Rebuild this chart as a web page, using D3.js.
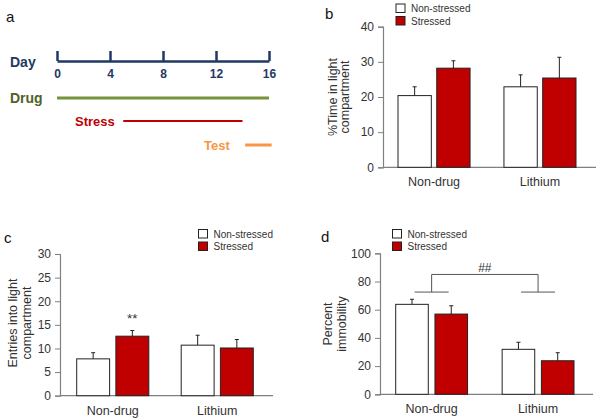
<!DOCTYPE html>
<html><head><meta charset="utf-8">
<script src="https://cdn.jsdelivr.net/npm/d3@7"></script>
<style>body{margin:0;background:#fff}svg{display:block;font-family:"Liberation Sans",Arial,sans-serif}</style>
</head><body><svg id="c" width="600" height="420"></svg>
<script>
// ---- data ----
const dayTicks = [0, 4, 8, 12, 16];
const phaseNames = ["Drug", "Stress", "Test"];
const phaseStart = [0, 5, 14.2];
const phaseEnd = [16, 14, 16.2];

const groups = ["Non-drug", "Lithium"];
const seriesNames = ["Non-stressed", "Stressed"];

const timeNonStressed = [20.4, 22.9];
const timeNonStressedErr = [2.5, 3.4];
const timeStressed = [28.2, 25.4];
const timeStressedErr = [2.1, 5.9];
const timeTicks = [0, 10, 20, 30, 40];

const entriesNonStressed = [7.8, 10.7];
const entriesNonStressedErr = [1.3, 2.1];
const entriesStressed = [12.6, 10.1];
const entriesStressedErr = [1.2, 1.8];
const entriesTicks = [0, 5, 10, 15, 20, 25, 30];

const immobNonStressed = [63.8, 31.9];
const immobNonStressedErr = [3.6, 5.0];
const immobStressed = [56.9, 23.8];
const immobStressedErr = [5.9, 5.7];
const immobTicks = [0, 20, 40, 60, 80, 100];

// ---- drawing ----
const svg = d3.select("#c");
const fillColors = ["#ffffff", "#c00000"];

function panelLetter(t, x, y) {
  svg.append("text").attr("x", x).attr("y", y).attr("font-size", 15).attr("fill", "#111").text(t);
}

// Panel a: timeline
panelLetter("a", 6, 22);
const tx = d3.scaleLinear().domain([0, 16]).range([57, 269]);
const navy = "#1f3864";
const ta = svg.append("g").attr("transform", "translate(0,61)");
const axA = d3.axisBottom(tx).tickValues(dayTicks).tickSize(0).tickPadding(8).tickFormat(d3.format("d"));
ta.call(axA);
ta.select(".domain").attr("stroke", navy).attr("stroke-width", 2.5);
ta.selectAll(".tick text").attr("font-size", 12).attr("font-weight", "bold").attr("fill", navy)
  .attr("font-family", '"Liberation Sans",Arial,sans-serif');
ta.selectAll(".tick").append("line").attr("y1", -10).attr("y2", 0).attr("stroke", navy).attr("stroke-width", 2.5);
svg.append("text").attr("x", 10).attr("y", 67).attr("font-size", 14).attr("font-weight", "bold").attr("fill", navy).text("Day");

const phaseText = ["#4f6228", "#c00000", "#f79646"];
const phaseLine = ["#77933c", "#c00000", "#f79646"];
const phaseY = [98, 121, 145];
const phaseWidth = [3, 2, 3];
const phaseLabelX = [10, 75, 204];
const phaseFont = [14, 13, 13];
phaseNames.forEach((p, i) => {
  svg.append("line").attr("x1", tx(phaseStart[i])).attr("x2", tx(phaseEnd[i]))
    .attr("y1", phaseY[i]).attr("y2", phaseY[i]).attr("stroke", phaseLine[i]).attr("stroke-width", phaseWidth[i]);
  svg.append("text").attr("x", phaseLabelX[i]).attr("y", phaseY[i] + 5).attr("font-size", phaseFont[i])
    .attr("font-weight", "bold").attr("fill", phaseText[i]).text(p);
});

function barPanel(cfg) {
  const y = d3.scaleLinear().domain([0, cfg.ticks[cfg.ticks.length - 1]]).range([cfg.y0, cfg.yTop]);
  const x0 = d3.scaleBand().domain(groups).range(cfg.barRange).paddingInner(cfg.padGroup).paddingOuter(0);
  const x1 = d3.scaleBand().domain(seriesNames).range([0, x0.bandwidth()]).paddingInner(cfg.padSeries);
  const g = svg.append("g");
  g.append("line").attr("x1", cfg.axisX).attr("x2", cfg.xEnd).attr("y1", cfg.y0).attr("y2", cfg.y0)
    .attr("stroke", "#808080").attr("stroke-width", 1.2);
  const ya = g.append("g").attr("transform", `translate(${cfg.axisX},0)`)
    .call(d3.axisLeft(y).tickValues(cfg.ticks).tickSize(5).tickPadding(4).tickFormat(d3.format("d")));
  ya.select(".domain").attr("stroke", "#808080").attr("stroke-width", 1.2);
  ya.selectAll(".tick line").attr("stroke", "#808080");
  ya.selectAll(".tick text").attr("font-size", 12).attr("fill", "#333")
    .attr("font-family", '"Liberation Sans",Arial,sans-serif');
  const series = [
    { name: seriesNames[0], vals: cfg.ns, errs: cfg.nsErr },
    { name: seriesNames[1], vals: cfg.s, errs: cfg.sErr }
  ];
  series.forEach((sr, si) => {
    groups.forEach((gr, gi) => {
      const bx = x0(gr) + x1(sr.name);
      const bw = x1.bandwidth();
      const cx = bx + bw / 2;
      const top = y(sr.vals[gi]);
      const et = y(sr.vals[gi] + sr.errs[gi]);
      g.append("line").attr("x1", cx).attr("x2", cx).attr("y1", top).attr("y2", et).attr("stroke", "#222").attr("stroke-width", 1);
      g.append("line").attr("x1", cx - 2).attr("x2", cx + 2).attr("y1", et).attr("y2", et).attr("stroke", "#222").attr("stroke-width", 1);
      g.append("rect").attr("x", bx).attr("y", top).attr("width", bw).attr("height", cfg.y0 - top)
        .attr("fill", fillColors[si]).attr("stroke", "#222").attr("stroke-width", 1);
    });
  });
  groups.forEach(gr => {
    g.append("text").attr("x", x0(gr) + x0.bandwidth() / 2).attr("y", cfg.y0 + 19)
      .attr("text-anchor", "middle").attr("font-size", 12.5).attr("fill", "#333").text(gr);
  });
  cfg.ylabel.forEach((line, i) => {
    g.append("text").attr("transform", `translate(${cfg.ylabelX[i] + 4},${cfg.ylabelY}) rotate(-90)`)
      .attr("text-anchor", "middle").attr("font-size", 12.5).attr("fill", "#333").text(line);
  });
  seriesNames.forEach((n, i) => {
    const ly = cfg.legY + i * 12.5;
    g.append("rect").attr("x", cfg.legX).attr("y", ly).attr("width", 9).attr("height", 8.5)
      .attr("fill", fillColors[i]).attr("stroke", "#222").attr("stroke-width", 1);
    g.append("text").attr("x", cfg.legX + 15).attr("y", ly + 8).attr("font-size", 10).attr("fill", "#333").text(n);
  });
  return { g, y, x0, x1 };
}

// Panel b
panelLetter("b", 325, 19);
barPanel({
  ticks: timeTicks, y0: 167.3, yTop: 26.7, axisX: 383, xEnd: 596,
  barRange: [398, 576], padGroup: 0.32, padSeries: 0.14,
  ns: timeNonStressed, nsErr: timeNonStressedErr, s: timeStressed, sErr: timeStressedErr,
  ylabel: ["%Time in light", "compartment"], ylabelX: [332.5, 345], ylabelY: 97,
  legX: 396, legY: 4
});

// Panel c
panelLetter("c", 4, 243);
const pc = barPanel({
  ticks: entriesTicks, y0: 395.7, yTop: 254, axisX: 60, xEnd: 273,
  barRange: [76.7, 253.3], padGroup: 0.31, padSeries: 0.16,
  ns: entriesNonStressed, nsErr: entriesNonStressedErr, s: entriesStressed, sErr: entriesStressedErr,
  ylabel: ["Entries into light", "compartment"], ylabelX: [13, 27], ylabelY: 323,
  legX: 198.5, legY: 229.5
});
pc.g.append("text").attr("x", pc.x0(groups[0]) + pc.x1(seriesNames[1]) + pc.x1.bandwidth() / 2)
  .attr("y", 323).attr("text-anchor", "middle").attr("font-size", 13.5).attr("fill", "#333").text("**");

// Panel d
panelLetter("d", 321, 242);
const pd = barPanel({
  ticks: immobTicks, y0: 394.3, yTop: 253.3, axisX: 380, xEnd: 593,
  barRange: [395.7, 574], padGroup: 0.325, padSeries: 0.17,
  ns: immobNonStressed, nsErr: immobNonStressedErr, s: immobStressed, sErr: immobStressedErr,
  ylabel: ["Percent", "immobility"], ylabelX: [327.5, 341.5], ylabelY: 324,
  legX: 392.5, legY: 229.5
});
{
  const bTop = pd.y(85), bLow = pd.y(72.5);
  const c1 = pd.x0(groups[0]) + pd.x0.bandwidth() / 2;
  const c2 = pd.x0(groups[1]) + pd.x0.bandwidth() / 2;
  const half = 17;
  const path = `M${c1 - half},${bLow}H${c1 + half}M${c1},${bLow}V${bTop}H${c2}V${bLow}M${c2 - half},${bLow}H${c2 + half}`;
  pd.g.append("path").attr("d", path).attr("fill", "none").attr("stroke", "#555").attr("stroke-width", 1);
  pd.g.append("text").attr("x", (c1 + c2) / 2).attr("y", bTop - 2).attr("text-anchor", "middle")
    .attr("font-size", 12).attr("fill", "#333").text("##");
}
</script></body></html>
